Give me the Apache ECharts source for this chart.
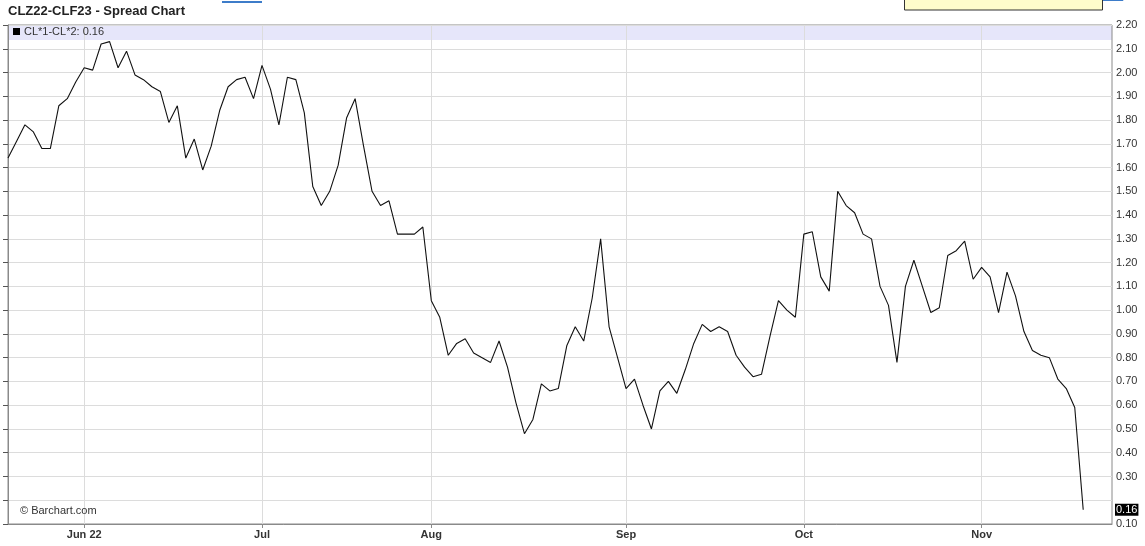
<!DOCTYPE html>
<html><head><meta charset="utf-8">
<script src="https://cdn.jsdelivr.net/npm/echarts@6/dist/echarts.min.js"></script>
<style>html,body{margin:0;padding:0;background:#fff}#c{width:1145px;height:546px}</style>
</head><body><div id="c"></div>
<script>
// Daily spread CL*1 - CL*2 (CLZ22-CLF23), trading days from May 18 2022 to Nov 17 2022
const spread = [
  1.64,1.71,1.78,1.75,1.68,1.68,1.86,1.89,1.96,
  2.02,2.01,2.12,2.13,2.02,2.09,1.99,1.97,1.94,1.92,1.79,1.86,1.64,1.72,1.59,1.69,1.84,1.94,1.97,1.98,1.89,
  2.03,1.93,1.78,1.98,1.97,1.83,1.52,1.44,1.50,1.61,1.81,1.89,1.69,1.50,1.44,1.46,1.32,1.32,1.32,1.35,
  1.04,0.97,0.81,0.86,0.88,0.82,0.80,0.78,0.87,0.76,0.61,0.48,0.54,0.69,0.66,0.67,0.85,0.93,0.87,1.05,1.30,0.93,0.80,
  0.67,0.71,0.60,0.50,0.66,0.70,0.65,0.75,0.86,0.94,0.91,0.93,0.91,0.81,0.76,0.72,0.73,0.89,1.04,1.00,0.97,
  1.32,1.33,1.14,1.08,1.50,1.44,1.41,1.32,1.30,1.10,1.02,0.78,1.10,1.21,1.10,0.99,1.01,1.23,1.25,1.29,1.13,
  1.18,1.14,0.99,1.16,1.06,0.91,0.83,0.81,0.80,0.71,0.67,0.59,0.16
];
// trading-day index of the first session of each month, and its label
const monthTickIdx = [9, 30, 50, 73, 94, 115];
const monthLabels = ['Jun 22', 'Jul', 'Aug', 'Sep', 'Oct', 'Nov'];
const yMin = 0.1, yMax = 2.2, yStep = 0.1;
const xMaxIdx = 130.4;
const titleText = 'CLZ22-CLF23 - Spread Chart';
const seriesName = 'CL*1-CL*2';
const sourceText = '\u00A9 Barchart.com';

const lastVal = spread[spread.length - 1];
const lastStr = lastVal.toFixed(2);
const points = spread.map((v, i) => [i, v]);
const FONT = 'Arial, "Liberation Sans", sans-serif';

const chart = echarts.init(document.getElementById('c'), null, {renderer: 'canvas'});
chart.setOption({
  animation: false,
  backgroundColor: '#fff',
  grid: {left: 8, right: 33, top: 25, bottom: 22, show: true, borderColor: '#8a8a8a', borderWidth: 1, backgroundColor: 'transparent'},
  xAxis: {
    type: 'value', min: 0, max: xMaxIdx,
    axisLine: {show: true, lineStyle: {color: '#8a8a8a'}},
    axisTick: {show: true, customValues: monthTickIdx, length: 4, lineStyle: {color: '#8a8a8a'}},
    axisLabel: {customValues: monthTickIdx, margin: 5, fontFamily: FONT, fontSize: 11, fontWeight: 'bold', color: '#333',
      formatter: v => { const k = monthTickIdx.indexOf(Math.round(v)); return k >= 0 ? monthLabels[k] : ''; }},
    splitLine: {show: true, lineStyle: {color: '#dcdcdc', width: 1}}
  },
  yAxis: {
    type: 'value', position: 'right', min: yMin, max: yMax, interval: yStep,
    axisLine: {show: true, lineStyle: {color: '#8a8a8a'}},
    axisTick: {show: true, inside: true, length: 5, lineStyle: {color: '#555'}},
    axisLabel: {margin: 4, fontFamily: FONT, fontSize: 11, color: '#333',
      formatter: v => Math.abs(v - 0.2) < 1e-6 ? '' : v.toFixed(2)},
    splitLine: {show: true, lineStyle: {color: '#dcdcdc', width: 1}}
  },
  series: [{
    name: seriesName, type: 'line', data: points, symbol: 'none',
    lineStyle: {color: '#111', width: 1.1}, z: 5,
    markLine: {
      silent: true, symbol: ['none', 'none'], animation: false,
      lineStyle: {color: 'rgba(0,0,0,0)', width: 1, type: 'solid'},
      label: {show: true, position: 'end', distance: 3, formatter: lastStr, backgroundColor: '#000', color: '#fff',
        fontFamily: FONT, fontSize: 11, padding: [1, 1, 0, 1]},
      emphasis: {disabled: true},
      data: [{yAxis: lastVal}]
    }
  }],
  graphic: [
    {type: 'rect', z: -10, shape: {x: 8, y: 25, width: 1104, height: 15}, style: {fill: '#e6e6fa'}},
    {type: 'rect', z: 10, shape: {x: 13, y: 28, width: 7, height: 7}, style: {fill: '#000'}},
    {type: 'text', z: 10, x: 24, y: 26, style: {text: seriesName + ': ' + lastStr, font: '11px ' + FONT, fill: '#333'}},
    {type: 'text', z: 10, x: 8, y: 5, style: {text: titleText, font: 'bold 13px ' + FONT, fill: '#222'}},
    {type: 'text', z: 10, x: 20, y: 505, style: {text: sourceText, font: '11px ' + FONT, fill: '#333'}},
    {type: 'rect', z: 10, shape: {x: 222, y: 1, width: 40, height: 2}, style: {fill: '#3d7cc9'}},
    {type: 'rect', z: 10, shape: {x: 904.5, y: -5, width: 198, height: 15}, style: {fill: '#fefccb', stroke: '#333', lineWidth: 1}},
    {type: 'polyline', z: 10, shape: {points: [[1103, 0.5], [1123, 0.5], [1123, -3]]}, style: {stroke: '#3d7cc9', lineWidth: 1, fill: null}}
  ]
});
</script>
</body></html>
